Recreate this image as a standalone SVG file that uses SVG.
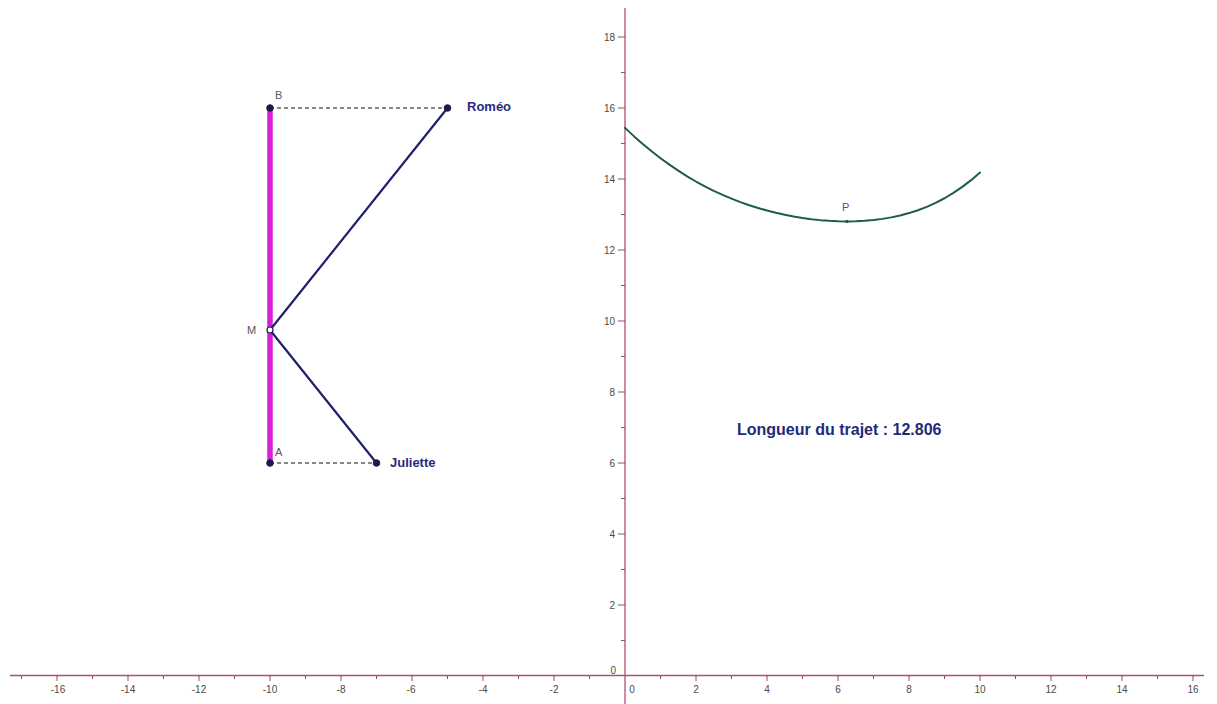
<svg xmlns="http://www.w3.org/2000/svg" width="1217" height="704" viewBox="0 0 1217 704">
<style>
.axis{stroke:#b0506e;stroke-width:1.3;fill:none}
.tick{stroke:#9a4a66;stroke-width:1;fill:none}
.tl{font-family:"Liberation Sans",Arial,sans-serif;font-size:10px;fill:#4a4a4a}
.pt{fill:#1c1c4c;stroke:#1c1c4c;stroke-width:1}
.plabel{font-family:"Liberation Sans",Arial,sans-serif;font-size:11px;fill:#555566}
.name{font-family:"Liberation Sans",Arial,sans-serif;font-size:13px;font-weight:bold;fill:#2a2a7a}
.seg{stroke:#1f1f6e;stroke-width:2.2;fill:none;stroke-linecap:round}
.dash{stroke:#111;stroke-width:1.2;stroke-dasharray:4 3;fill:none}
</style>
<rect width="1217" height="704" fill="#fff"/>
<g id="axes">
<line class="axis" x1="10" y1="675.5" x2="1204" y2="675.5"/>
<line class="axis" x1="625" y1="8" x2="625" y2="704"/>
<path class="tick" d="M57 675v6M128 675v6M199 675v6M270 675v6M341 675v6M412 675v6M483 675v6M554 675v6M696 675v6M767 675v6M838 675v6M909 675v6M980 675v6M1051 675v6M1122 675v6M1193 675v6"/>
<path class="tick" d="M21.5 676v3M92.5 676v3M163.5 676v3M234.5 676v3M305.5 676v3M376.5 676v3M447.5 676v3M518.5 676v3M589.5 676v3M660.5 676v3M731.5 676v3M802.5 676v3M873.5 676v3M944.5 676v3M1015.5 676v3M1086.5 676v3M1157.5 676v3"/>
<path class="tick" d="M618 605h7M618 534h7M618 463h7M618 392h7M618 321h7M618 250h7M618 179h7M618 108h7M618 37h7"/>
<path class="tick" d="M621 640.5h4M621 569.5h4M621 498.5h4M621 427.5h4M621 356.5h4M621 285.5h4M621 214.5h4M621 143.5h4M621 72.5h4"/>
<g class="tl" text-anchor="middle">
<text x="58" y="693">-16</text><text x="128" y="693">-14</text><text x="199" y="693">-12</text><text x="270" y="693">-10</text>
<text x="341" y="693">-8</text><text x="411" y="693">-6</text><text x="483" y="693">-4</text><text x="554" y="693">-2</text>
<text x="632" y="693">0</text><text x="696" y="693">2</text><text x="767" y="693">4</text><text x="838" y="693">6</text>
<text x="909" y="693">8</text><text x="980" y="693">10</text><text x="1051" y="693">12</text><text x="1122" y="693">14</text><text x="1193" y="693">16</text>
</g>
<g class="tl" text-anchor="end">
<text x="616" y="674">0</text><text x="615" y="609">2</text><text x="615" y="538">4</text><text x="615" y="467">6</text>
<text x="615" y="396">8</text><text x="615" y="325">10</text><text x="615" y="254">12</text><text x="615" y="183">14</text>
<text x="615" y="112">16</text><text x="615" y="41">18</text>
</g>
</g>
<g id="connectors">
<line x1="270" y1="108" x2="270" y2="463" stroke="#d91ed9" stroke-width="5.5"/>
<line class="dash" x1="270" y1="108" x2="447.5" y2="108"/>
<line class="dash" x1="270" y1="463" x2="376.5" y2="463"/>
<line class="seg" x1="270" y1="330" x2="447.5" y2="108"/>
<line class="seg" x1="270" y1="330" x2="376.5" y2="463"/>
</g>
<g id="curve">
<path d="M625 127.87L633.88 136.14L642.75 143.95L651.63 151.3L660.5 158.2L669.38 164.66L678.25 170.69L687.13 176.3L696 181.51L704.88 186.34L713.75 190.79L722.63 194.88L731.5 198.64L740.38 202.07L749.25 205.19L758.13 208.01L767 210.55L775.88 212.8L784.75 214.79L793.63 216.51L802.5 217.98L811.38 219.18L820.25 220.13L829.13 220.82L838 221.24L846.88 221.39L855.75 221.23L864.63 220.78L873.5 220L882.38 218.88L891.25 217.38L900.13 215.46L909 213.09L917.88 210.24L926.75 206.85L935.63 202.86L944.5 198.24L953.38 192.94L962.25 186.92L971.13 180.15L980 172.6" fill="none" stroke="#1e5e40" stroke-width="2" stroke-linejoin="round" stroke-linecap="round"/>
</g>
<g id="B"><circle class="pt" cx="270" cy="108" r="3.3"/><text class="plabel" x="275" y="99">B</text></g>
<g id="A"><circle class="pt" cx="270" cy="463" r="3.3"/><text class="plabel" x="275" y="456">A</text></g>
<g id="M"><circle cx="270" cy="330" r="3" fill="#fff" stroke="#1c1c4c" stroke-width="1.2"/><text class="plabel" x="247" y="334" fill="#777">M</text></g>
<g id="Romeo"><circle class="pt" cx="447.5" cy="108" r="3.3"/><text class="name" x="467" y="111">Roméo</text></g>
<g id="Juliette"><circle class="pt" cx="376.5" cy="463" r="3.3"/><text class="name" x="390" y="467">Juliette</text></g>
<g id="P"><circle cx="847" cy="221.4" r="1.6" fill="#1e5e40"/><text class="plabel" x="842" y="211">P</text></g>
<g id="length"><text x="737" y="435" font-family="Liberation Sans,Arial,sans-serif" font-size="16" font-weight="bold" fill="#1f2a7a">Longueur du trajet : 12.806</text></g>
</svg>
